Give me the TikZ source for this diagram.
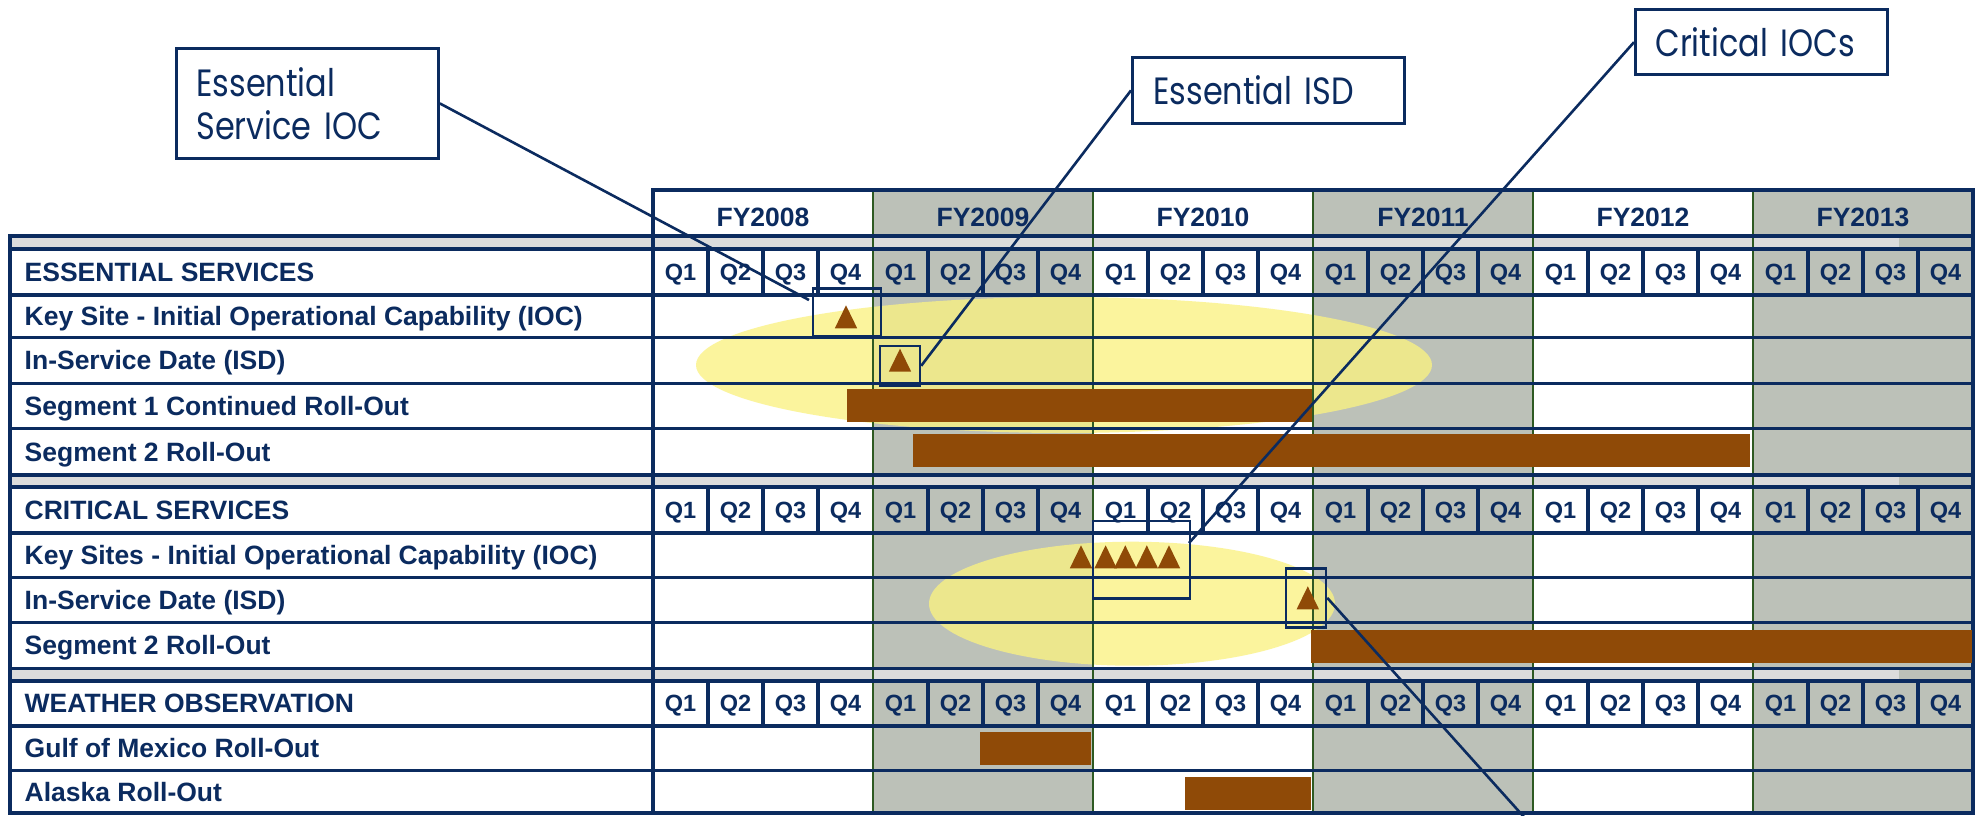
\documentclass[tikz,border=0pt]{standalone}
\usepackage{fontspec}
\setmainfont{Liberation Sans}
\newfontfamily\calloutfont[FakeStretch=0.84]{Poppins}
\definecolor{navy}{HTML}{0B2B5F}
\definecolor{yrshade}{HTML}{BCC1B8}
\definecolor{bandgray}{HTML}{DCDCDC}
\definecolor{barbrown}{HTML}{8F4A07}
\definecolor{yrline}{HTML}{2E5A22}
\definecolor{hilite}{RGB}{250,242,130}
\newcommand\mytri[2]{\fill[barbrown] (#1-11.2,#2) -- (#1+11.2,#2) -- (#1,#2-23) -- cycle;}
\begin{document}
\begin{tikzpicture}[x=1pt,y=-1pt,
  gridln/.style={draw=navy,line width=3.4pt,line cap=rect},
  yrln/.style={draw=yrline,line width=2pt},
  lbl/.style={anchor=base west,inner sep=0pt,text=navy,font=\fontsize{26.5}{30}\selectfont\bfseries},
  qlbl/.style={anchor=base,inner sep=0pt,text=navy,font=\fontsize{23.5}{28}\selectfont\bfseries},
  fylbl/.style={anchor=base,inner sep=0pt,text=navy,font=\fontsize{26.5}{30}\selectfont\bfseries},
  brbar/.style={fill=barbrown},
  hbox/.style={draw=navy,line width=2.4pt,inner sep=0pt,rectangle},
  calbox/.style={draw=navy,line width=2.8pt,fill=white,text=navy,align=left,inner ysep=0pt,anchor=north west,font=\calloutfont\fontsize{38}{42.7}\selectfont},
  leader/.style={draw=navy,line width=2.6pt},
  glow/.style={fill=hilite,fill opacity=0.78}]
\useasboundingbox (0,0) rectangle (1981,815);
\fill[white] (0,0) rectangle (1981,815);
% year shading
\foreach \i in {1,3,5} \fill[yrshade] ({653+220*\i},190) rectangle ({873+220*\i},813);
% bands
\foreach \ya/\yb in {236/249,475/487,668/681} \fill[bandgray] (10,\ya) rectangle (1899,\yb);
% highlight ellipses
\fill[glow] (1064,365) ellipse [x radius=368, y radius=68];
\fill[glow] (1132,603.7) ellipse [x radius=203, y radius=62];
% year lines
\foreach \i in {1,...,5} \draw[yrln] ({653+220*\i},190) -- ({653+220*\i},813);
% quarter separators in Q rows
\foreach \ya/\yb in {249/295,487/533,681/726}
  \foreach \q in {1,2,3,5,6,7,9,10,11,13,14,15,17,18,19,21,22,23}
    \draw[gridln,line cap=butt] ({653+55*\q},\ya) -- ({653+55*\q},\yb);
% horizontal lines
\draw[gridln] (653,190) -- (1973,190);
\foreach \yy in {236,249,295,337.3,383.3,428.3,475,487,533,577.3,622.3,668.3,681,726,770.7,813}
  \draw[gridln] (10,\yy) -- (1973,\yy);
\draw[gridln] (10,236) -- (10,813);
\draw[gridln] (653,190) -- (653,813);
\draw[gridln] (1973,190) -- (1973,813);
% FY labels
\foreach \i/\yr in {0/2008,1/2009,2/2010,3/2011,4/2012,5/2013}
  \node[fylbl] (fy\yr) at ({763+220*\i},226) {FY\yr};
% Q labels
\foreach \yc/\nm in {280.4/qa,518.4/qb,711.9/qc}
  \foreach \q in {0,...,23} {
    \pgfmathtruncatemacro\qq{mod(\q,4)+1}
    \node[qlbl] (\nm\q) at ({653+55*(\q+0.5)},\yc) {Q\qq};
  }
% row labels
\node[lbl] (l1) at (24.5,281.3) {ESSENTIAL SERVICES};
\node[lbl] (l2) at (24.5,325.5) {Key Site - Initial Operational Capability (IOC)};
\node[lbl] (l3) at (24.5,369.6) {In-Service Date (ISD)};
\node[lbl] (l4) at (24.5,415.1) {Segment 1 Continued Roll-Out};
\node[lbl] (l5) at (24.5,461) {Segment 2 Roll-Out};
\node[lbl] (l6) at (24.5,519.3) {CRITICAL SERVICES};
\node[lbl] (l7) at (24.5,564.5) {Key Sites - Initial Operational Capability (IOC)};
\node[lbl] (l8) at (24.5,609.1) {In-Service Date (ISD)};
\node[lbl] (l9) at (24.5,654.6) {Segment 2 Roll-Out};
\node[lbl] (l10) at (24.5,712.8) {WEATHER OBSERVATION};
\node[lbl] (l11) at (24.5,757.7) {Gulf of Mexico Roll-Out};
\node[lbl] (l12) at (24.5,801.3) {Alaska Roll-Out};
% bars
\fill[brbar] (846.7,389.3) rectangle (1312,421.7);
\fill[brbar] (913,434) rectangle (1750,466.7);
\fill[brbar] (1311,630) rectangle (1972,662.7);
\fill[brbar] (980,732) rectangle (1091,765);
\fill[brbar] (1184.6,776.7) rectangle (1311,810);
% milestones
\mytri{846}{328.3}
\mytri{900}{371.7}
\mytri{1081}{568.3}
\mytri{1105.6}{568.3}
\mytri{1125.3}{568.3}
\mytri{1146.8}{568.3}
\mytri{1169}{568.3}
\mytri{1307.8}{609.3}
% highlight boxes
\node[hbox, minimum width=68pt, minimum height=47.7pt] (hb1) at (847,312.2) {};
\node[hbox, minimum width=40pt, minimum height=39.7pt] (hb2) at (900,365.8) {};
\node[hbox, minimum width=97pt, minimum height=77.6pt] (hb3) at (1141.5,559.5) {};
\node[hbox, minimum width=40pt, minimum height=59pt] (hb4) at (1306,597.8) {};
% callouts
\node[calbox, text width=222pt, inner xsep=20pt, minimum height=110pt] (c1) at (175,47) {Essential\\Service IOC};
\node[calbox, text width=230pt, inner xsep=21pt, minimum height=66pt] (c2) at (1131,56) {Essential ISD};
\node[calbox, text width=212pt, inner xsep=20pt, minimum height=65pt] (c3) at (1634,8.3) {Critical IOCs};
\coordinate (e1) at (809,300);
\coordinate (e3) at (1189,543);
\coordinate (e4) at (1524,817);
\draw[leader] (c1.east) -- (e1);
\draw[leader] (c2.west) -- (hb2.east);
\draw[leader] (c3.west) -- (e3);
\draw[leader] (hb4.east) -- (e4);
\end{tikzpicture}
\end{document}
